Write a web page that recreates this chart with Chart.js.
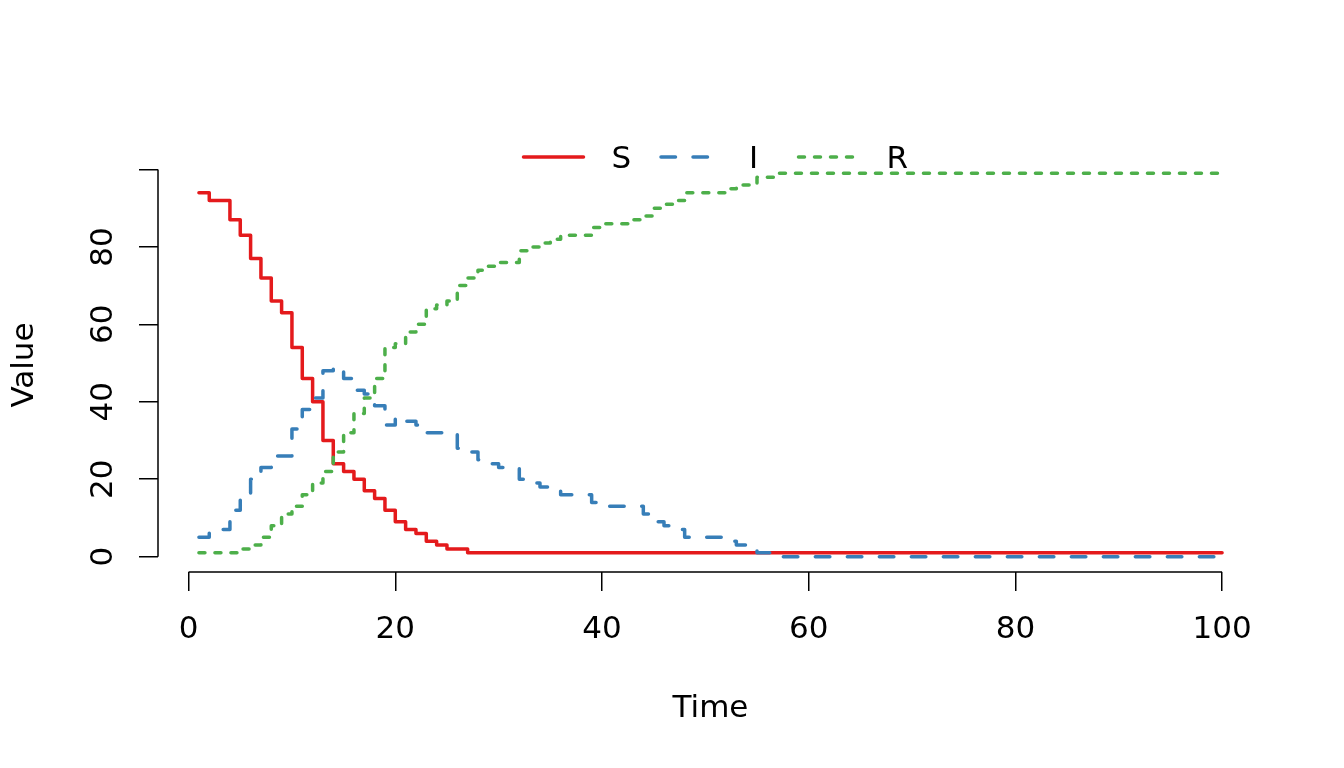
<!DOCTYPE html>
<html lang="en">
<head>
<meta charset="UTF-8">
<title>SIR</title>
<script src="https://cdn.jsdelivr.net/npm/chart.js"></script>
<style>
  body { margin: 0; background: #fff; }
  canvas { display: block; }
</style>
</head>
<body>
<canvas id="myChart" width="1344" height="768"></canvas>
<script>
// time steps
const time = [
  1, 2, 3, 4, 5, 6, 7, 8, 9, 10,
  11, 12, 13, 14, 15, 16, 17, 18, 19, 20,
  21, 22, 23, 24, 25, 26, 27, 28, 29, 30,
  31, 32, 33, 34, 35, 36, 37, 38, 39, 40,
  41, 42, 43, 44, 45, 46, 47, 48, 49, 50,
  51, 52, 53, 54, 55, 56, 57, 58, 59, 60,
  61, 62, 63, 64, 65, 66, 67, 68, 69, 70,
  71, 72, 73, 74, 75, 76, 77, 78, 79, 80,
  81, 82, 83, 84, 85, 86, 87, 88, 89, 90,
  91, 92, 93, 94, 95, 96, 97, 98, 99, 100
];

const S = [
  94, 92, 92, 87, 83, 77, 72, 66, 63, 54,
  46, 40, 30, 24, 22, 20, 17, 15, 12, 9,
  7, 6, 4, 3, 2, 2, 1, 1, 1, 1,
  1, 1, 1, 1, 1, 1, 1, 1, 1, 1,
  1, 1, 1, 1, 1, 1, 1, 1, 1, 1,
  1, 1, 1, 1, 1, 1, 1, 1, 1, 1,
  1, 1, 1, 1, 1, 1, 1, 1, 1, 1,
  1, 1, 1, 1, 1, 1, 1, 1, 1, 1,
  1, 1, 1, 1, 1, 1, 1, 1, 1, 1,
  1, 1, 1, 1, 1, 1, 1, 1, 1, 1
];

const I = [
  5, 7, 7, 12, 15, 20, 23, 26, 26, 33,
  38, 41, 48, 49, 46, 43, 42, 39, 34, 36,
  35, 34, 32, 32, 32, 28, 27, 25, 24, 23,
  23, 20, 19, 18, 17, 16, 16, 16, 14, 13,
  13, 13, 13, 11, 9, 8, 7, 5, 5, 5,
  5, 4, 3, 3, 1, 1, 0, 0, 0, 0,
  0, 0, 0, 0, 0, 0, 0, 0, 0, 0,
  0, 0, 0, 0, 0, 0, 0, 0, 0, 0,
  0, 0, 0, 0, 0, 0, 0, 0, 0, 0,
  0, 0, 0, 0, 0, 0, 0, 0, 0, 0
];

const R = [
  1, 1, 1, 1, 2, 3, 5, 8, 11, 13,
  16, 19, 22, 27, 32, 37, 41, 46, 54, 55,
  58, 60, 64, 65, 66, 70, 72, 74, 75, 76,
  76, 79, 80, 81, 82, 83, 83, 83, 85, 86,
  86, 86, 87, 88, 90, 91, 92, 94, 94, 94,
  94, 95, 96, 96, 98, 98, 99, 99, 99, 99,
  99, 99, 99, 99, 99, 99, 99, 99, 99, 99,
  99, 99, 99, 99, 99, 99, 99, 99, 99, 99,
  99, 99, 99, 99, 99, 99, 99, 99, 99, 99,
  99, 99, 99, 99, 99, 99, 99, 99, 99, 99
];

const names = ['S', 'I', 'R'];
const xTicks = [0, 20, 40, 60, 80, 100];
const xTickLabels = ['0', '20', '40', '60', '80', '100'];
const yTicks = [0, 20, 40, 60, 80, 100];
const yTickLabels = ['0', '20', '40', '60', '80', ''];

const FONT = '"DejaVu Sans"';
const toPoints = vals => time.map((t, i) => ({ x: t, y: vals[i] }));

// axis lines (only first to last tick), rotated y labels and the legend
const extras = {
  id: 'extras',
  afterDraw(chart) {
    const { ctx, chartArea, scales: { x, y } } = chart;
    ctx.save();
    ctx.strokeStyle = '#000';
    ctx.lineWidth = 1.5;
    ctx.beginPath();
    ctx.moveTo(x.getPixelForValue(xTicks[0]), chartArea.bottom);
    ctx.lineTo(x.getPixelForValue(xTicks[xTicks.length - 1]), chartArea.bottom);
    ctx.moveTo(chartArea.left, y.getPixelForValue(yTicks[0]));
    ctx.lineTo(chartArea.left, y.getPixelForValue(yTicks[yTicks.length - 1]));
    ctx.stroke();

    ctx.fillStyle = '#000';
    ctx.font = '31px ' + FONT;
    ctx.textAlign = 'center';
    ctx.textBaseline = 'alphabetic';
    yTicks.forEach((v, i) => {
      ctx.save();
      ctx.translate(chartArea.left - 46, y.getPixelForValue(v));
      ctx.rotate(-Math.PI / 2);
      ctx.fillText(yTickLabels[i], 0, 0);
      ctx.restore();
    });

    const cx = (chartArea.left + chartArea.right) / 2;
    const ly = chartArea.top - 1;
    chart.data.datasets.forEach((ds, i) => {
      const x0 = cx - 187 + i * 137.5;
      ctx.strokeStyle = ds.borderColor;
      ctx.lineWidth = ds.borderWidth;
      ctx.lineCap = 'round';
      ctx.setLineDash(ds.borderDash);
      ctx.beginPath();
      ctx.moveTo(x0, ly);
      ctx.lineTo(x0 + 60, ly);
      ctx.stroke();
      ctx.setLineDash([]);
      ctx.textAlign = 'left';
      ctx.fillText(ds.label, x0 + 88, ly + 11);
    });
    ctx.restore();
  }
};

const config = {
  type: 'line',
  data: {
    datasets: [
      { label: names[0], data: toPoints(S), borderColor: '#E41A1C', borderWidth: 3.5, borderDash: [], order: 3 },
      { label: names[1], data: toPoints(I), borderColor: '#377EB8', borderWidth: 3.5, borderDash: [14.5, 17.5], order: 2 },
      { label: names[2], data: toPoints(R), borderColor: '#4DAF4A', borderWidth: 3.5, borderDash: [6, 10], order: 1 }
    ].map(d => Object.assign(d, {
      stepped: 'before',
      pointRadius: 0,
      fill: false,
      tension: 0,
      borderCapStyle: 'round',
      borderJoinStyle: 'round'
    }))
  },
  options: {
    responsive: false,
    devicePixelRatio: 1,
    animation: false,
    layout: { padding: { top: 158, right: 81, bottom: 0, left: 0 } },
    plugins: { legend: { display: false }, tooltip: { enabled: false } },
    scales: {
      x: {
        type: 'linear',
        position: 'bottom',
        min: -2.96,
        max: 103.96,
        afterBuildTicks: s => { s.ticks = xTicks.map(v => ({ value: v })); },
        afterFit: s => { s.height = 196; },
        border: { display: false },
        grid: { drawOnChartArea: false, drawTicks: true, tickLength: 19, color: '#000', lineWidth: 1.5 },
        ticks: {
          padding: 20,
          color: '#000',
          autoSkip: false,
          maxRotation: 0,
          font: { family: FONT, size: 31 },
          callback: (v, i) => xTickLabels[i]
        },
        title: { display: true, text: 'Time', color: '#000', font: { family: FONT, size: 31 }, padding: { top: 0, bottom: 40 } }
      },
      y: {
        type: 'linear',
        position: 'left',
        min: -3.96,
        max: 102.96,
        afterBuildTicks: s => { s.ticks = yTicks.map(v => ({ value: v })); },
        afterFit: s => { s.width = 158; },
        border: { display: false },
        grid: { drawOnChartArea: false, drawTicks: true, tickLength: 19, color: '#000', lineWidth: 1.5 },
        ticks: { display: false },
        title: { display: true, text: 'Value', color: '#000', font: { family: FONT, size: 31 }, padding: { top: 6, bottom: 0 } }
      }
    }
  },
  plugins: [extras]
};

new Chart(document.getElementById('myChart').getContext('2d'), config);
</script>
</body>
</html>
